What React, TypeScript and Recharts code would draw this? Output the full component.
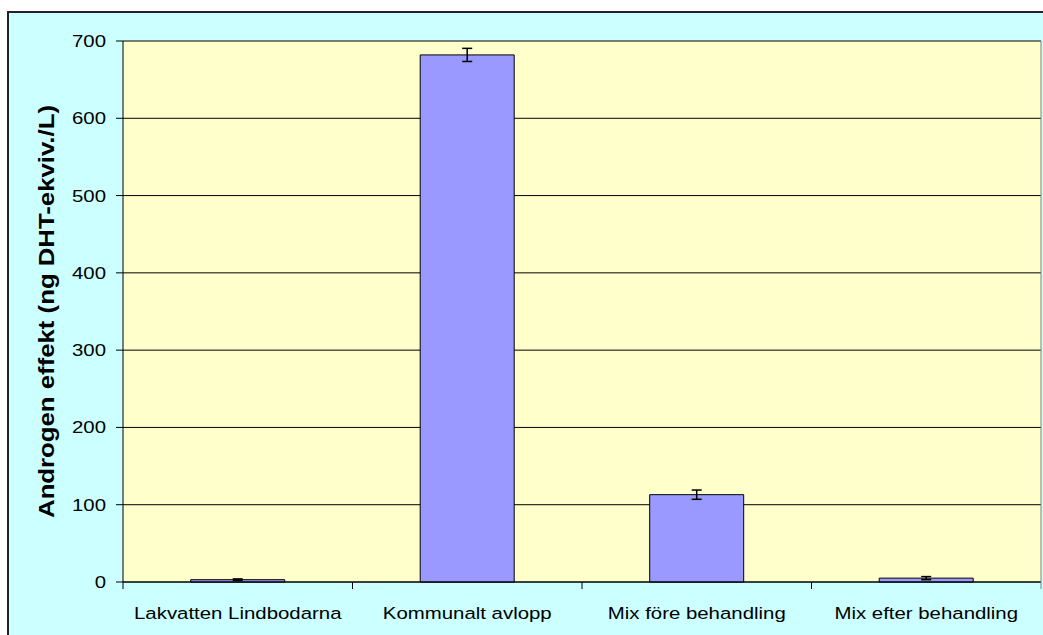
import { BarChart, Bar, XAxis, YAxis, CartesianGrid, ErrorBar } from 'recharts';

const categories = ['Lakvatten Lindbodarna', 'Kommunalt avlopp', 'Mix före behandling', 'Mix efter behandling'];
const values = [3, 682, 113, 5];
const errors = [1, 8.5, 6, 2];
const yTicks = [0, 100, 200, 300, 400, 500, 600, 700];

const data = categories.map((name, i) => ({ name, value: values[i], err: errors[i] }));

const FONT = '"Liberation Sans", Arial, sans-serif';
const BAND = 918 / 4;
const PLOT_H = 541;

const XTick = (props: any) => {
  const { x, y, payload, index } = props;
  return (
    <g transform={`translate(${x},${y})`}>
      <line x1={-BAND / 2} y1={0} x2={-BAND / 2} y2={7} stroke='#000' />
      {index === categories.length - 1 && (
        <line x1={BAND / 2} y1={-PLOT_H} x2={BAND / 2} y2={7} stroke='#808080' />
      )}
      <text x={0} y={0} dy={37} textAnchor='middle' fill='#000' fontSize={17} fontFamily={FONT} transform='scale(1.2,1)'>
        {payload.value}
      </text>
    </g>
  );
};

const YTick = (props: any) => {
  const { x, y, payload } = props;
  return (
    <g transform={`translate(${x},${y})`}>
      <text x={0} y={0} dy={6} textAnchor='end' fill='#000' fontSize={17} fontFamily={FONT} transform='scale(1.2,1)'>
        {payload.value}
      </text>
    </g>
  );
};

const YLabel = (props: any) => {
  const { viewBox } = props;
  const cx = viewBox.x + 46;
  const cy = viewBox.y + viewBox.height / 2;
  return (
    <g transform={`translate(${cx},${cy}) rotate(-90) scale(1.12,1)`}>
      <text x={0} y={0} dy={8} textAnchor='middle' fill='#000' fontSize={23} fontWeight='bold' fontFamily={FONT}>
        Androgen effekt (ng DHT-ekviv./L)
      </text>
    </g>
  );
};

export default function App() {
  return (
    <div style={{ position: 'absolute', left: 0, top: 0, width: 1043, height: 635, background: '#fff', overflow: 'hidden' }}>
      <div
        style={{
          position: 'absolute',
          left: 7,
          top: 11,
          width: 1100,
          height: 700,
          background: '#CCFFFF',
          borderTop: '2px solid #222',
          borderLeft: '2px solid #222',
        }}
      />
      <div style={{ position: 'absolute', left: 0, top: 0 }}>
        <BarChart
          width={1043}
          height={635}
          data={data}
          margin={{ top: 41, right: 2, left: 0, bottom: 0 }}
          barCategoryGap='29.5%'
        >
          <CartesianGrid horizontal vertical={false} stroke='#000' fill='#FFFFCC' fillOpacity={1} />
          <XAxis
            dataKey='name'
            height={53}
            tickLine={false}
            tickSize={0}
            tickMargin={0}
            axisLine={{ stroke: '#000' }}
            tick={<XTick />}
            interval={0}
          />
          <YAxis
            width={123}
            domain={[0, 700]}
            ticks={yTicks}
            tickSize={7}
            tickMargin={10}
            tickLine={{ stroke: '#000' }}
            axisLine={{ stroke: '#000' }}
            tick={<YTick />}
            label={{ content: <YLabel /> }}
          />
          <Bar dataKey='value' fill='#9999FF' stroke='#000' strokeWidth={1} isAnimationActive={false}>
            <ErrorBar dataKey='err' width={5} stroke='#000' strokeWidth={1.5} direction='y' />
          </Bar>
        </BarChart>
      </div>
    </div>
  );
}
